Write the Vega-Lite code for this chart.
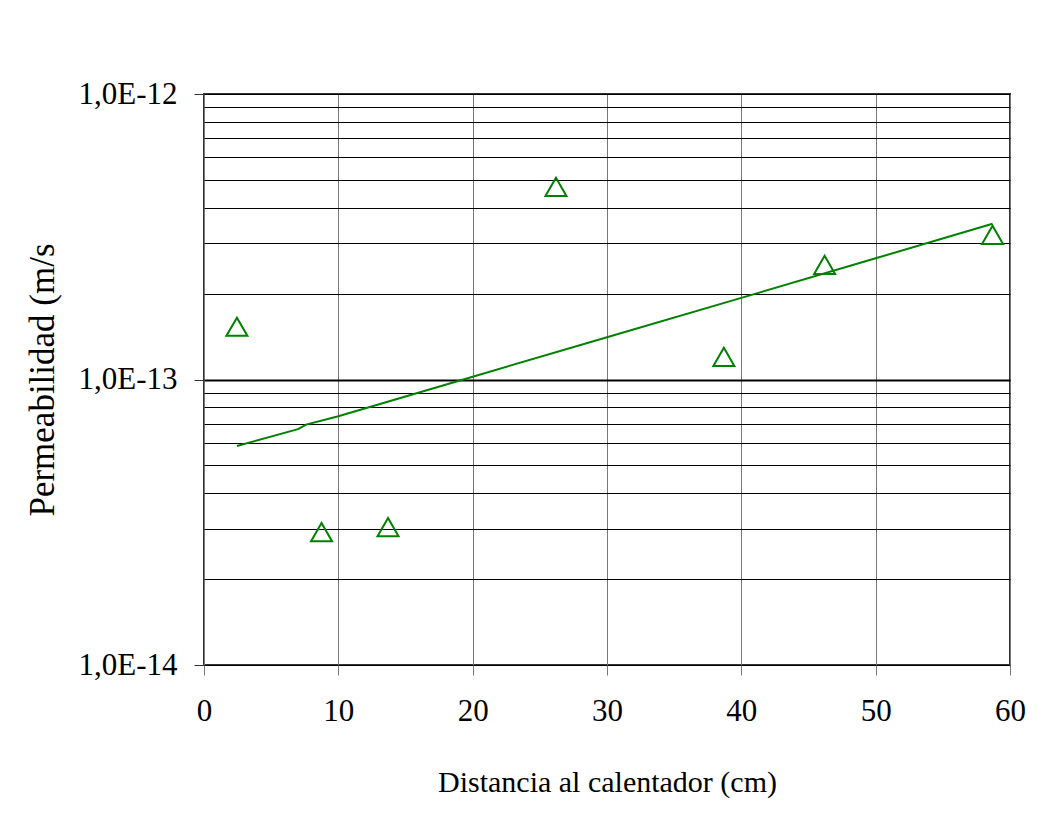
{
  "$schema": "https://vega.github.io/schema/vega-lite/v6.json",
  "autosize": "none",
  "width": 806,
  "height": 571,
  "padding": {"left": 204, "top": 94, "right": 51, "bottom": 153},
  "background": "white",
  "config": {
    "view": {"stroke": "#333333", "strokeWidth": 2},
    "font": "Liberation Serif"
  },
  "datasets": {
    "points": [
      {"distancia": 2.45, "permeabilidad": 1.53e-13},
      {"distancia": 8.75, "permeabilidad": 2.92e-14},
      {"distancia": 13.7, "permeabilidad": 3.04e-14},
      {"distancia": 26.2, "permeabilidad": 4.73e-13},
      {"distancia": 38.7, "permeabilidad": 1.2e-13},
      {"distancia": 46.2, "permeabilidad": 2.52e-13},
      {"distancia": 58.7, "permeabilidad": 3.21e-13}
    ],
    "trend": [
      {"distancia": 2.45, "permeabilidad": 5.85e-14},
      {"distancia": 7.0, "permeabilidad": 6.7e-14},
      {"distancia": 7.6, "permeabilidad": 6.95e-14},
      {"distancia": 10, "permeabilidad": 7.44e-14},
      {"distancia": 20, "permeabilidad": 1.023e-13},
      {"distancia": 30, "permeabilidad": 1.406e-13},
      {"distancia": 40, "permeabilidad": 1.932e-13},
      {"distancia": 50, "permeabilidad": 2.658e-13},
      {"distancia": 58.7, "permeabilidad": 3.51e-13}
    ]
  },
  "encoding": {
    "x": {
      "field": "distancia",
      "type": "quantitative",
      "scale": {"domain": [0, 60], "nice": false, "zero": false},
      "axis": {
        "title": "Distancia al calentador (cm)",
        "values": [0, 10, 20, 30, 40, 50, 60],
        "domain": false,
        "grid": true,
        "gridColor": "#777777",
        "gridWidth": 1,
        "gridOpacity": 1,
        "tickColor": "#777777",
        "tickSize": 10,
        "tickWidth": 1,
        "labelFont": "Liberation Serif",
        "labelFontSize": 31,
        "labelColor": "black",
        "labelPadding": 21,
        "labelFlush": false,
        "labelOverlap": false,
        "titleFont": "Liberation Serif",
        "titleFontSize": 30,
        "titleFontWeight": "normal",
        "titleColor": "black",
        "titlePadding": 41
      }
    },
    "y": {
      "field": "permeabilidad",
      "type": "quantitative",
      "scale": {"type": "log", "domain": [1e-14, 1e-12], "nice": false},
      "axis": {
        "title": "Permeabilidad (m/s",
        "values": [1e-14, 2e-14, 3e-14, 4e-14, 5e-14, 6e-14, 7e-14, 8e-14, 9e-14, 1e-13, 2e-13, 3e-13, 4e-13, 5e-13, 6e-13, 7e-13, 8e-13, 9e-13, 1e-12],
        "labelExpr": "abs(log(datum.value)/LN10 - round(log(datum.value)/LN10)) < 0.000001 ? '1,0E' + round(log(datum.value)/LN10) : ''",
        "domain": false,
        "grid": true,
        "gridColor": "black",
        "gridOpacity": 1,
        "gridWidth": {"condition": {"test": "abs(log(datum.value)/LN10 + 13) < 0.000001", "value": 2}, "value": 1},
        "tickColor": "#333333",
        "tickOpacity": {"condition": {"test": "abs(log(datum.value)/LN10 - round(log(datum.value)/LN10)) < 0.000001", "value": 1}, "value": 0},
        "tickSize": 10,
        "tickWidth": 1,
        "labelFont": "Liberation Serif",
        "labelFontSize": 31,
        "labelColor": "black",
        "labelPadding": 17,
        "labelOverlap": false,
        "labelFlush": false,
        "titleFont": "Liberation Serif",
        "titleFontSize": 35,
        "titleFontWeight": "normal",
        "titleColor": "black",
        "titlePadding": 17
      }
    }
  },
  "layer": [
    {
      "data": {"name": "trend"},
      "mark": {"type": "line", "color": "#008000", "strokeWidth": 2}
    },
    {
      "data": {"name": "points"},
      "mark": {"type": "point", "shape": "triangle-up", "filled": false, "stroke": "#008000", "strokeWidth": 2, "size": 440, "opacity": 1}
    }
  ]
}
